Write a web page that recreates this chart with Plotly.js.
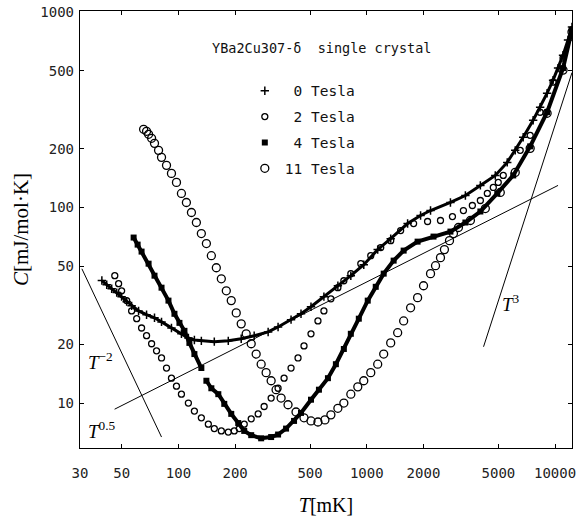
<!DOCTYPE html>
<html><head><meta charset="utf-8">
<script src="https://cdn.plot.ly/plotly-3.0.1.min.js"></script>
<style>html,body{margin:0;padding:0;background:#fff}</style>
</head><body>
<div id="chart" style="width:587px;height:518px"></div>
<script>
// Tick labels
const xTicks = [30, 50, 100, 200, 500, 1000, 2000, 5000, 10000];
const yTicks = [10, 20, 50, 100, 200, 500, 1000];

// 0 Tesla
const t0 = [39.2, 41.6, 44.2, 47.0, 49.9, 53.1, 56.4, 61.4, 67.7, 74.6, 81.3, 91.8, 103.7, 112.9, 121.5, 132.3, 155.0, 183.9, 215.4, 252.4, 299.4, 338.1, 396.2, 447.5, 505.6, 592.1, 702.4, 822.8, 964.0, 1143, 1340, 1648, 1931, 2181, 2782, 3340, 4011, 4814, 5572, 6144, 6772, 7649, 8330, 9073, 9759, 10373, 11024, 11717, 12297];
const c0 = [42.3, 40.3, 38.4, 36.7, 35.0, 33.0, 31.4, 29.6, 28.3, 27.3, 26.0, 24.2, 22.6, 21.5, 21.0, 20.8, 20.6, 20.8, 21.3, 22.1, 23.1, 24.5, 26.7, 28.6, 31.1, 35.0, 39.8, 44.8, 51.0, 60.9, 69.3, 82.8, 91.0, 96.5, 106.1, 115.2, 129.7, 145.9, 170.1, 196.0, 228.6, 279.4, 325.7, 384.2, 448.0, 516.3, 601.6, 718.7, 837.6];

// 2 Tesla
const t2 = [45.9, 48.1, 49.9, 53.1, 56.4, 60.0, 63.7, 67.7, 72.0, 76.5, 81.3, 86.4, 91.8, 97.6, 103.7, 112.9, 121.5, 132.3, 144.1, 155.0, 168.9, 183.9, 197.8, 210.3, 223.5, 243.4, 265.0, 285.1, 310.6, 338.1, 363.8, 396.2, 431.5, 464.2, 505.6, 550.5, 592.1, 645.0, 702.4, 755.6, 822.8, 929.6, 1050, 1186, 1340, 1513, 1773, 2103, 2463, 2851, 3260, 3637, 4011, 4368, 4699, 4993, 5307, 6530, 7376, 8330, 9759, 11024, 12297];
const c2 = [44.8, 40.8, 37.5, 33.4, 29.6, 27.0, 24.2, 22.1, 20.1, 18.5, 17.0, 15.1, 13.4, 12.2, 11.1, 10.0, 9.1, 8.4, 7.8, 7.4, 7.2, 7.1, 7.2, 7.4, 7.8, 8.3, 8.8, 9.6, 10.6, 11.9, 13.4, 15.1, 17.0, 19.6, 22.6, 26.3, 29.6, 34.1, 38.9, 42.2, 45.9, 51.6, 56.7, 62.4, 67.7, 76.2, 82.8, 84.8, 85.8, 89.9, 96.5, 102.4, 108.6, 118.0, 126.6, 134.4, 145.9, 196.0, 233.9, 307.1, 437.5, 580.9, 809.6];

// 4 Tesla (null = gap in the measured curve)
const t4 = [57.8, 60.7, 63.7, 69.4, 74.6, 81.3, 88.5, 95.2, 101.2, 107.6, 114.3, 121.5, 132.3, null, 140.7, 149.5, 162.8, 175.1, 190.7, 207.7, 223.5, 243.4, 274.9, 310.6, 338.1, 372.8, 411.0, 447.5, 505.6, 557.2, 622.0, 685.5, 755.6, 822.8, 907.3, 1012, 1116, 1230, 1389, 1570, 1862, 2262, 2782, 3340, 4011, 4932, 5995, 7376, 9073, 11024, 12297];
const c4 = [70.2, 64.6, 59.5, 51.6, 44.8, 38.9, 33.4, 28.6, 25.7, 23.4, 20.3, 17.8, 15.1, null, 13.0, 11.9, 11.1, 9.9, 8.8, 7.9, 7.2, 6.85, 6.6, 6.7, 6.9, 7.4, 8.1, 8.9, 10.4, 11.7, 13.4, 15.8, 18.9, 22.6, 27.0, 33.4, 39.3, 45.9, 53.5, 60.2, 66.9, 71.0, 75.3, 83.8, 95.4, 118.0, 145.9, 205.5, 307.1, 516.3, 809.6];

// 11 Tesla
const t11 = [65.3, 67.7, 69.4, 72.0, 74.6, 78.4, 81.3, 86.4, 91.8, 97.6, 103.7, 110.2, 117.2, 124.5, 132.3, 140.7, 149.5, 158.9, 168.9, 179.5, 190.7, 202.7, 215.4, 228.9, 243.4, 258.6, 274.9, 292.1, 310.6, 329.9, 350.8, 381.9, 421.0, 464.2, 505.6, 550.5, 599.5, 645.0, 702.4, 755.6, 822.8, 896.3, 964.0, 1050, 1143, 1230, 1340, 1459, 1570, 1709, 1862, 2002, 2181, 2318, 2463, 2585, 2750, 2886, 3068, 3551, 4263, 5117, 6144, 7376, 9073, 11024, 12297];
const c11 = [251.2, 245.3, 236.8, 225.9, 212.9, 196.0, 180.5, 164.3, 149.4, 134.4, 118.0, 106.1, 94.3, 83.8, 73.6, 65.4, 56.7, 49.2, 43.2, 37.5, 33.4, 28.9, 25.4, 22.6, 20.1, 17.8, 15.8, 14.3, 13.0, 11.7, 10.6, 9.8, 9.0, 8.4, 8.1, 8.0, 8.2, 8.7, 9.4, 10.0, 11.1, 12.1, 13.0, 14.3, 15.8, 17.8, 20.3, 22.9, 26.3, 30.7, 34.6, 39.8, 45.9, 50.4, 55.4, 60.9, 67.7, 73.6, 79.0, 85.8, 98.8, 119.4, 151.2, 200.7, 303.4, 504.3, 789.6];

// Power-law guide lines
const guideM2T = [30.7, 81.3];   const guideM2C = [48.6, 6.7];
const guideHalfT = [45.8, 10370]; const guideHalfC = [9.3, 129.7];
const guideCubeT = [4170, 12300]; const guideCubeC = [19.4, 490];

const seriesNames = ['\u00a00 Tesla', '\u00a02 Tesla', '\u00a04 Tesla', '11 Tesla'];

const guide = (x, y) => ({x, y, mode: 'lines', type: 'scatter', showlegend: false, hoverinfo: 'skip',
  line: {color: '#000', width: 1}});

const traces = [
  guide(guideM2T, guideM2C),
  guide(guideHalfT, guideHalfC),
  guide(guideCubeT, guideCubeC),
  {x: t0, y: c0, mode: 'lines', type: 'scatter', showlegend: false, line: {color: '#000', width: 3}},
  {x: t4, y: c4, mode: 'lines', type: 'scatter', showlegend: false, line: {color: '#000', width: 4}, connectgaps: false},
  {x: t0, y: c0, mode: 'markers', type: 'scatter', name: seriesNames[0], legendgroup: 'a',
    marker: {symbol: 'cross-thin-open', size: 6, color: '#000', line: {color: '#000', width: 1.5}}},
  {x: t2, y: c2, mode: 'markers', type: 'scatter', name: seriesNames[1], legendgroup: 'b',
    marker: {symbol: 'circle-open', size: 6, color: '#000', line: {color: '#000', width: 1.3}}},
  {x: t4, y: c4, mode: 'markers', type: 'scatter', name: seriesNames[2], legendgroup: 'c',
    marker: {symbol: 'square', size: 6, color: '#000'}},
  {x: t11, y: c11, mode: 'markers', type: 'scatter', name: seriesNames[3], legendgroup: 'd',
    marker: {symbol: 'circle-open', size: 8, color: '#000', line: {color: '#000', width: 1.3}}}
];

const serif = 'Liberation Serif, Times New Roman, serif';
const mono = 'DejaVu Sans Mono, monospace';

const layout = {
  width: 587, height: 518,
  margin: {l: 80, r: 15, t: 11, b: 70},
  paper_bgcolor: '#fff', plot_bgcolor: '#fff',
  showlegend: true,
  legend: {x: 0.335, y: 0.854, xanchor: 'left', yanchor: 'top', bgcolor: 'rgba(0,0,0,0)',
    traceorder: 'grouped', tracegroupgap: 4, font: {family: mono, size: 14.5, color: '#111'}},
  xaxis: {type: 'log', range: [Math.log10(30), Math.log10(12300)], tickvals: xTicks, ticktext: xTicks.map(String),
    ticks: 'inside', ticklen: 4, tickwidth: 1, tickcolor: '#000', showline: true, linecolor: '#000', linewidth: 1.2,
    mirror: 'ticks', showgrid: false, zeroline: false, ticklabelstandoff: 12,
    tickfont: {family: mono, size: 14, color: '#222'},
    title: {text: '<i>T</i>[mK]', font: {family: serif, size: 20, color: '#000'}, standoff: 18}},
  yaxis: {type: 'log', range: [0.77, 3.005], tickvals: yTicks, ticktext: yTicks.map(String),
    ticks: 'inside', ticklen: 4, tickwidth: 1, tickcolor: '#000', showline: true, linecolor: '#000', linewidth: 1.2,
    mirror: 'ticks', showgrid: false, zeroline: false, ticklabelstandoff: 2,
    tickfont: {family: mono, size: 14, color: '#222'},
    title: {text: '<i>C</i>[mJ/mol\u00b7K]', font: {family: serif, size: 21, color: '#000'}, standoff: 6}},
  annotations: [
    {xref: 'paper', yref: 'paper', x: 0.49, y: 0.915, xanchor: 'center', yanchor: 'middle', showarrow: false,
      text: 'YBa2Cu307-\u03b4\u00a0 single crystal', font: {family: mono, size: 13.5, color: '#111'}},
    {xref: 'paper', yref: 'paper', x: 0.041, y: 0.20, xanchor: 'center', yanchor: 'middle', showarrow: false,
      text: '<i>T</i><sup>\u22122</sup>', font: {family: serif, size: 19, color: '#000'}},
    {xref: 'paper', yref: 'paper', x: 0.045, y: 0.041, xanchor: 'center', yanchor: 'middle', showarrow: false,
      text: '<i>T</i><sup>0.5</sup>', font: {family: serif, size: 19, color: '#000'}},
    {xref: 'paper', yref: 'paper', x: 0.876, y: 0.332, xanchor: 'center', yanchor: 'middle', showarrow: false,
      text: '<i>T</i><sup>3</sup>', font: {family: serif, size: 19, color: '#000'}}
  ]
};

Plotly.newPlot('chart', traces, layout, {displayModeBar: false, staticPlot: true});
</script>
</body></html>
